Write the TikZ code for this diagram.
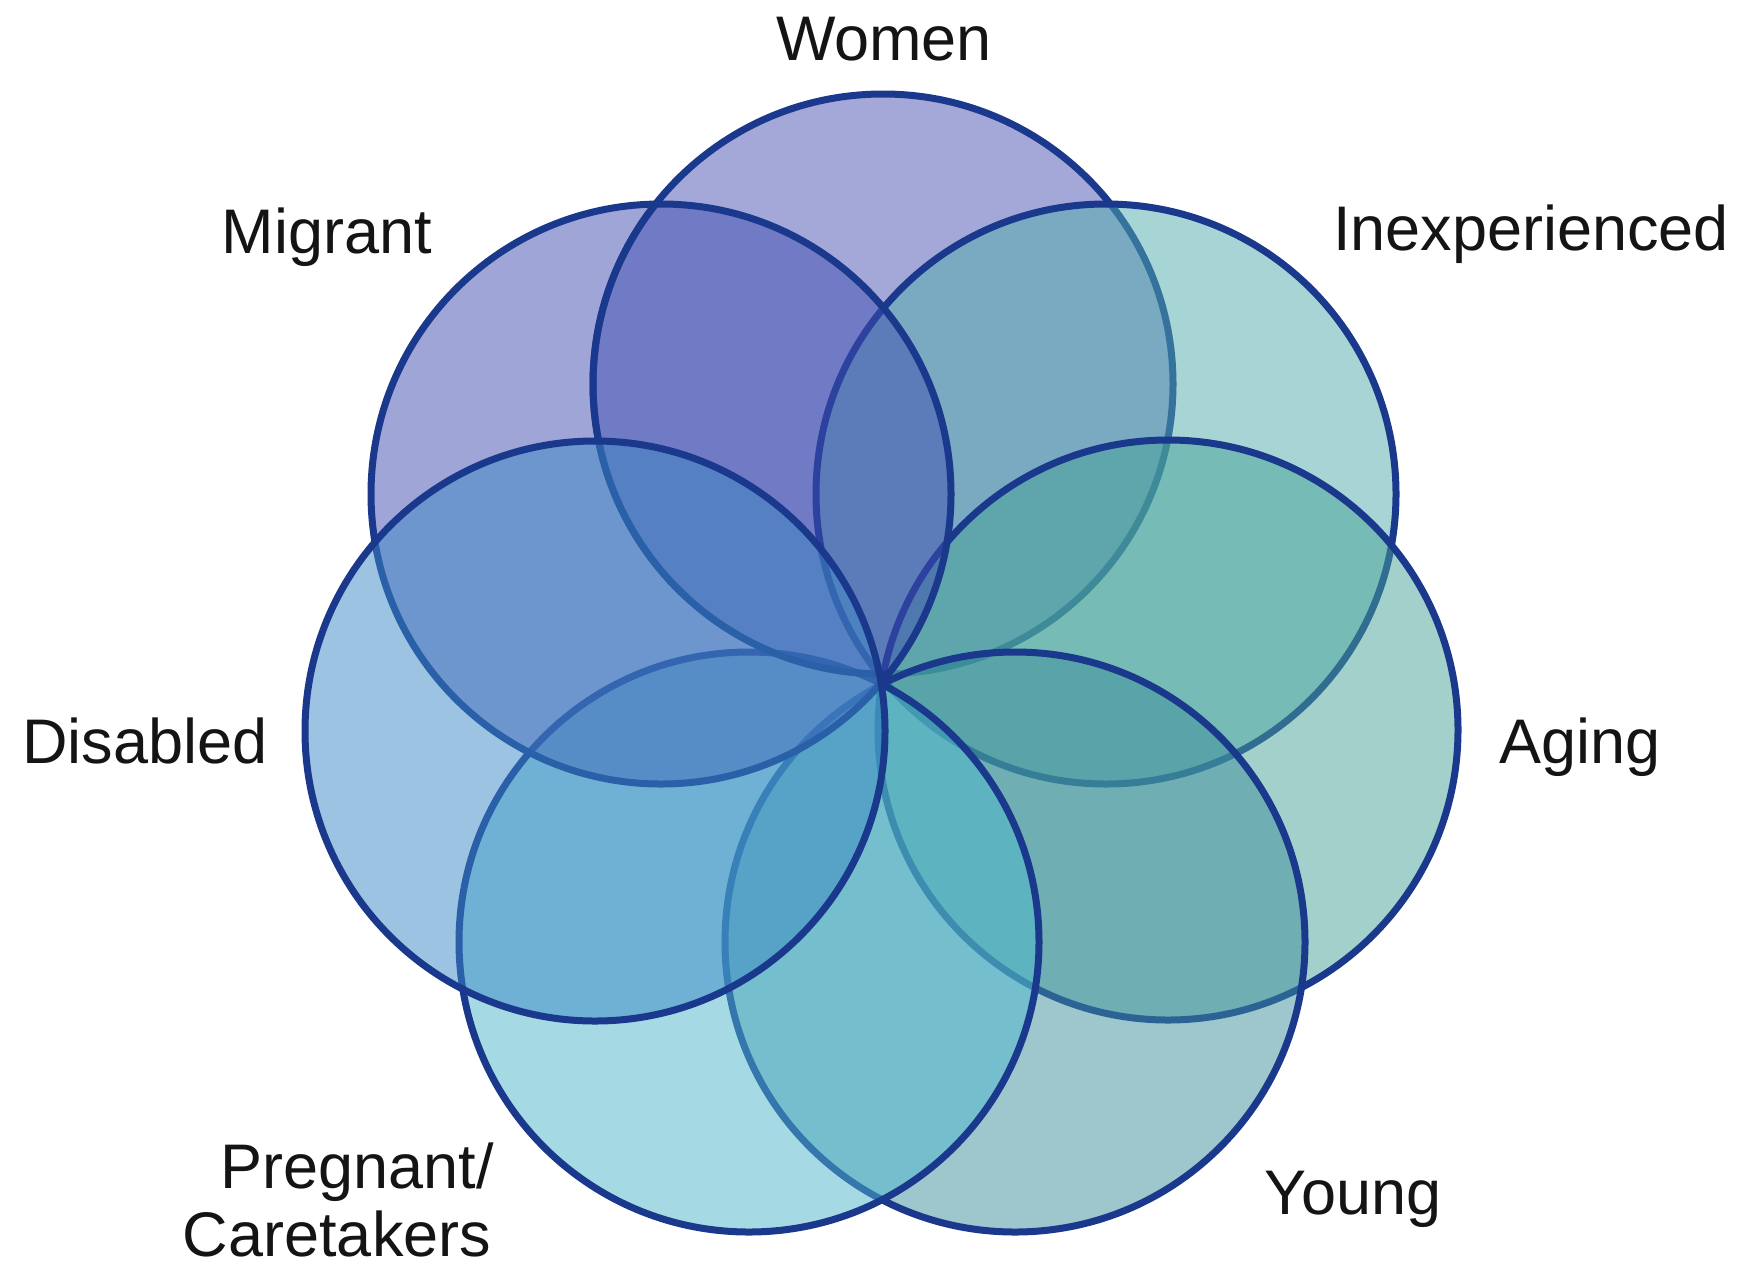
\documentclass[tikz,border=0pt]{standalone}
\usepackage{fontspec}
\setmainfont{Liberation Sans}

% ring fills (drawn half transparent, so overlaps darken)
\definecolor{ringnavy}{RGB}{26,56,140}
\definecolor{cWomen}{RGB}{73,83,181}
\definecolor{cInexp}{RGB}{81,173,173}
\definecolor{cAging}{RGB}{71,163,151}
\definecolor{cYoung}{RGB}{61,143,157}
\definecolor{cPregnant}{RGB}{77,183,205}
\definecolor{cDisabled}{RGB}{59,137,197}
\definecolor{cMigrant}{RGB}{65,77,177}
\definecolor{labelink}{RGB}{20,20,20}

\begin{document}
\begin{tikzpicture}[x=1pt,y=-1pt,
  ring/.style={line width=7pt, draw=ringnavy, fill opacity=0.5},
  ringline/.style={line width=7pt, draw=ringnavy},
  lbl/.style={font=\fontsize{63}{69}\selectfont, text=labelink, inner sep=0pt, anchor=base}]

\useasboundingbox (0,0) rectangle (1739,1267);
\fill[white] (0,0) rectangle (1739,1267);

% seven rings arranged round one meeting point
\def\rr{290}
\coordinate (cW) at (883,384);
\coordinate (cI) at (1106,494);
\coordinate (cA) at (1168,730);
\coordinate (cY) at (1015,942);
\coordinate (cP) at (749,942);
\coordinate (cD) at (595,731);
\coordinate (cM) at (661,494);

\filldraw[ring, fill=cWomen]    (cW) circle[radius=\rr pt];
\filldraw[ring, fill=cInexp]    (cI) circle[radius=\rr pt];
\filldraw[ring, fill=cAging]    (cA) circle[radius=\rr pt];
\filldraw[ring, fill=cYoung]    (cY) circle[radius=\rr pt];
\filldraw[ring, fill=cPregnant] (cP) circle[radius=\rr pt];
\filldraw[ring, fill=cMigrant]  (cM) circle[radius=\rr pt];
% keep the Women outline crisp where it crosses the Migrant ring
\begin{scope}
  \clip (cM) circle[radius=\rr pt];
  \draw[ringline] (cW) circle[radius=\rr pt];
\end{scope}
\filldraw[ring, fill=cDisabled] (cD) circle[radius=\rr pt];

% labels
\node[lbl] (women)      at (884,60)   {Women};
\node[lbl] (migrant)    at (327,253)  {Migrant};
\node[lbl] (inexp)      at (1531,250) {Inexperienced};
\node[lbl] (disabled)   at (145,763)  {Disabled};
\node[lbl] (aging)      at (1580,763) {Aging};
\node[lbl] (young)      at (1353,1214){Young};
\node[lbl] (pregnant)   at (357,1188) {Pregnant/};
\node[lbl] (caretakers) at (337,1256) {Caretakers};
\end{tikzpicture}
\end{document}
